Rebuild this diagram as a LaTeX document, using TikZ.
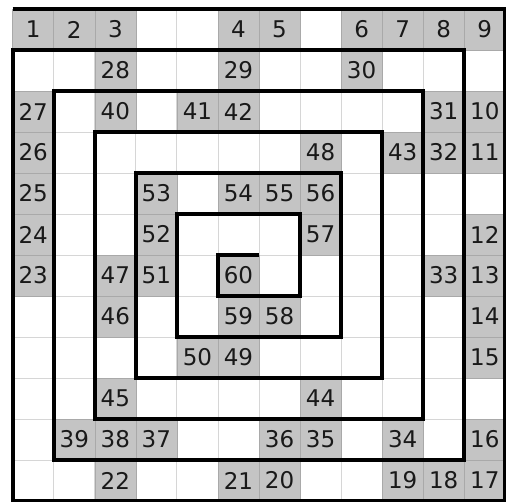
\documentclass[tikz,border=0pt]{standalone}
\usepackage{fontspec}
\setmainfont{DejaVu Sans}
\usepackage{xcolor}
\usepackage{tikz}
\definecolor{cellgrey}{HTML}{C4C4C4}
\definecolor{lightline}{HTML}{D6D6D6}
\definecolor{darkline}{HTML}{A9A9A9}
\tikzset{
  cell/.style={draw=darkline, line width=0.6pt, fill=cellgrey, inner sep=0pt,
               minimum width=41.05pt, minimum height=41pt,
               font={\fontsize{23}{26}\selectfont}, text=black!90},
  gridln/.style={lightline, line width=0.9pt},
  spiral/.style={black, line width=3.7pt, line join=miter},
}

\begin{document}
\begin{tikzpicture}[x=41.05pt, y=-41pt]
  \useasboundingbox (-0.3094,-0.2195) rectangle (12.017,12.024);
  \fill[white] (-0.3094,-0.2195) rectangle (12.017,12.024);

  % thin grid
  \foreach \i in {0,...,12} {
    \draw[gridln] (\i,0) -- (\i,12);
    \draw[gridln] (0,\i) -- (12,\i);
  }

  % numbered cells: number/column/row
  \foreach \n/\c/\r in {1/0/0, 2/1/0, 3/2/0, 4/5/0, 5/6/0, 6/8/0, 7/9/0, 8/10/0, 9/11/0,
      10/11/2, 11/11/3, 12/11/5, 13/11/6, 14/11/7, 15/11/8, 16/11/10, 17/11/11,
      18/10/11, 19/9/11, 20/6/11, 21/5/11, 22/2/11,
      23/0/6, 24/0/5, 25/0/4, 26/0/3, 27/0/2,
      28/2/1, 29/5/1, 30/8/1, 31/10/2, 32/10/3, 33/10/6,
      34/9/10, 35/7/10, 36/6/10, 37/3/10, 38/2/10, 39/1/10,
      40/2/2, 41/4/2, 42/5/2, 43/9/3, 44/7/9, 45/2/9, 46/2/7, 47/2/6,
      48/7/3, 49/5/8, 50/4/8, 51/3/6, 52/3/5, 53/3/4, 54/5/4, 55/6/4,
      56/7/4, 57/7/5, 58/6/7, 59/5/7, 60/5/6} {
    \node[cell] (n\n) at (\c+0.5,\r+0.5) {\raisebox{-1.5pt}{\n}};
  }

  % spiral wall
  \draw[spiral] (0,0) -- (12,0) -- (12,12) -- (0,12) -- (0,1)
    -- (11,1) -- (11,11) -- (1,11) -- (1,2)
    -- (10,2) -- (10,10) -- (2,10) -- (2,3)
    -- (9,3) -- (9,9) -- (3,9) -- (3,4)
    -- (8,4) -- (8,8) -- (4,8) -- (4,5)
    -- (7,5) -- (7,7) -- (5,7) -- (5,6) -- (6,6);
\end{tikzpicture}
\end{document}
